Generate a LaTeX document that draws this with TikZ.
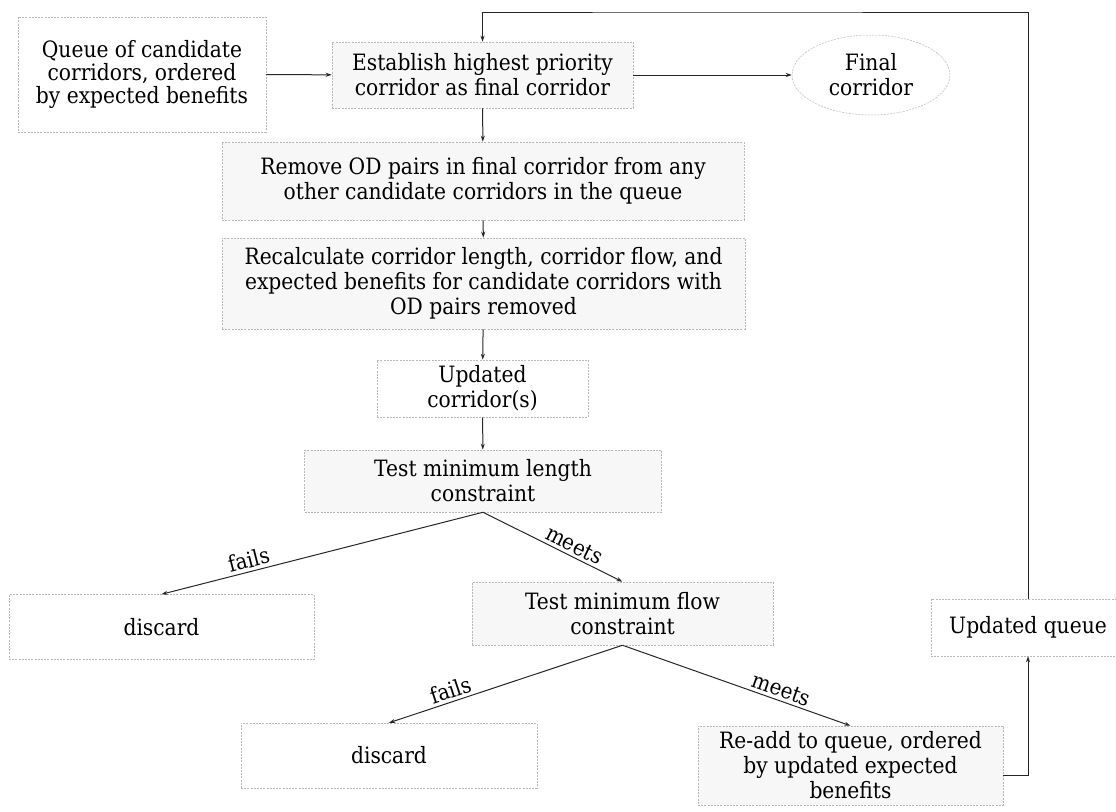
\documentclass[tikz,border=0pt]{standalone}
\usepackage{fontspec}
\setmainfont{DejaVu Serif}[FakeStretch=0.9]
\usetikzlibrary{arrows.meta,shapes.geometric}
\tikzset{
  box/.style={draw=gray!55, line width=0.5pt, dash pattern=on 2pt off 1.2pt, fill=#1, align=center, inner sep=0pt, font=\fontsize{22.5}{25}\selectfont},
  box/.default=white,
  arr/.style={line width=1pt, draw=black!85, -{Stealth[length=6pt,width=4pt]}},
  lab/.style={font=\fontsize{22}{24}\selectfont, sloped, above, inner sep=3pt}
}
\begin{document}
\begin{tikzpicture}[x=1pt,y=-1pt]
\useasboundingbox (0,0) rectangle (1116,811);
\node[box, minimum width=248, minimum height=115, font=\fontsize{22.5}{23}\selectfont] (queue) at (142,74.5) {Queue of candidate\\corridors, ordered\\by expected benefits};
\node[box=gray!6, minimum width=301, minimum height=66] (est) at (482.5,75) {Establish highest priority\\corridor as final corridor};
\node[box, ellipse, minimum width=158, minimum height=80] (final) at (871,75) {Final\\corridor};
\node[box=gray!6, minimum width=522, minimum height=78] (rem) at (483,181) {Remove OD pairs in final corridor from any\\other candidate corridors in the queue};
\node[box=gray!6, minimum width=523, minimum height=91] (rec) at (483.5,283.5) {Recalculate corridor length, corridor flow, and\\expected benefits for candidate corridors with\\OD pairs removed};
\node[box, minimum width=211, minimum height=57] (upc) at (482.5,388.5) {Updated\\corridor(s)};
\node[box=gray!6, minimum width=357, minimum height=62] (tlen) at (483,481) {Test minimum length\\constraint};
\node[box, minimum width=305, minimum height=65] (dis1) at (161.5,627) {discard};
\node[box=gray!6, minimum width=301, minimum height=63] (tflow) at (622.5,613.5) {Test minimum flow\\constraint};
\node[box, minimum width=296, minimum height=65] (dis2) at (389,755.5) {discard};
\node[box=gray!6, minimum width=305, minimum height=79] (readd) at (850.5,765.5) {Re-add to queue, ordered\\by updated expected\\benefits};
\node[box, minimum width=194, minimum height=57] (uq) at (1028,627.5) {Updated queue};
\coordinate (top) at (700,12);

\draw[arr] (queue) -- (est);
\draw[arr] (est) -- (final);
\draw[arr] (est) -- (rem);
\draw[arr] (rem) -- (rec);
\draw[arr] (rec) -- (upc);
\draw[arr] (upc) -- (tlen);
\draw[arr] (tlen.south) -- node[lab, pos=0.72] {fails} (dis1.north);
\draw[arr] (tlen.south) -- node[lab, pos=0.62] {meets} (tflow.north);
\draw[arr] (tflow.south) -- node[lab, pos=0.72] {fails} (dis2.north);
\draw[arr] (tflow.south) -- node[lab, pos=0.68] {meets} (readd.north);
\draw[arr] ([yshift=-10pt]readd.east) -| (uq.south);
\draw[arr] (uq.north) |- (top) -| (est.north);
\end{tikzpicture}
\end{document}
